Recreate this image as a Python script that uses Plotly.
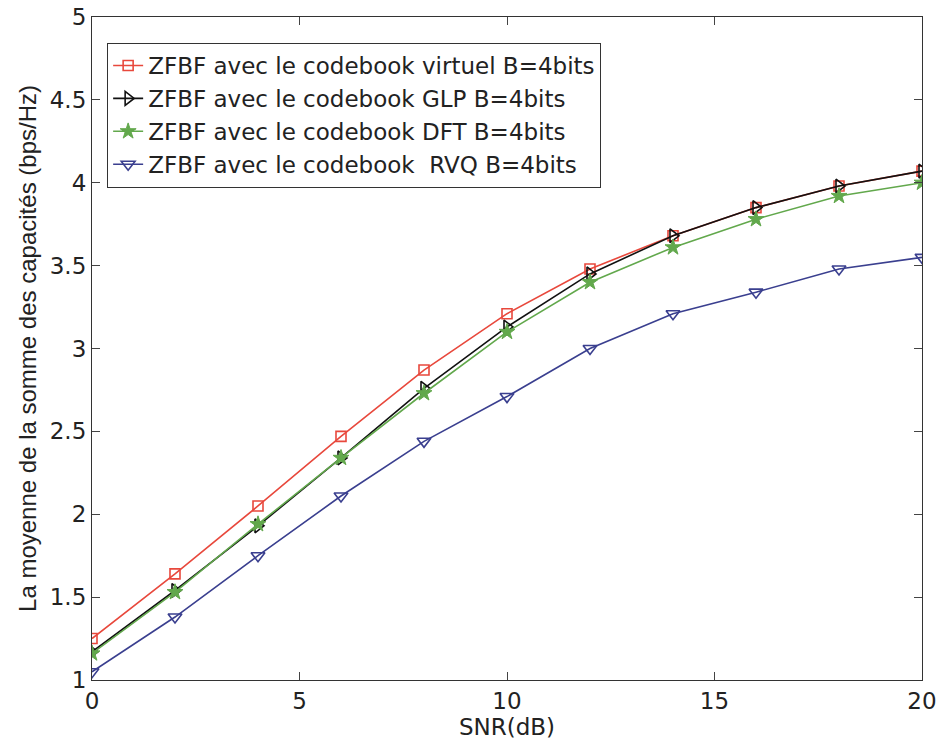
import plotly.graph_objects as go

snr = [0, 2, 4, 6, 8, 10, 12, 14, 16, 18, 20]
virtuel = [1.25, 1.64, 2.05, 2.47, 2.87, 3.21, 3.48, 3.68, 3.85, 3.98, 4.07]
glp = [1.17, 1.54, 1.93, 2.34, 2.76, 3.13, 3.45, 3.68, 3.85, 3.98, 4.07]
dft = [1.16, 1.53, 1.94, 2.34, 2.73, 3.10, 3.40, 3.61, 3.78, 3.92, 4.00]
rvq = [1.05, 1.38, 1.75, 2.11, 2.44, 2.71, 3.00, 3.21, 3.34, 3.48, 3.55]

names = [
    "ZFBF avec le codebook virtuel B=4bits",
    "ZFBF avec le codebook GLP B=4bits",
    "ZFBF avec le codebook DFT B=4bits",
    "ZFBF avec le codebook  RVQ B=4bits",
]

x_ticks = [0, 5, 10, 15, 20]
y_ticks = [1, 1.5, 2, 2.5, 3, 3.5, 4, 4.5, 5]
y_labels = ["1", "1.5", "2", "2.5", "3", "3.5", "4", "4.5", "5"]

fig = go.Figure()
fig.add_trace(go.Scatter(x=snr, y=virtuel, name=names[0], mode="lines+markers",
                         line=dict(color="#e8483c", width=1.6),
                         marker=dict(symbol="square-open", size=10, color="#e8483c", line=dict(width=1.6))))
fig.add_trace(go.Scatter(x=snr, y=glp, name=names[1], mode="lines+markers",
                         line=dict(color="#111111", width=1.6),
                         marker=dict(symbol="triangle-right-open", size=12, color="#111111", line=dict(width=1.6))))
fig.add_trace(go.Scatter(x=snr, y=dft, name=names[2], mode="lines+markers",
                         line=dict(color="#62a84c", width=1.6),
                         marker=dict(symbol="star", size=12, color="#62a84c", line=dict(width=1, color="#62a84c"))))
fig.add_trace(go.Scatter(x=snr, y=rvq, name=names[3], mode="lines+markers",
                         line=dict(color="#3a3f8f", width=1.6),
                         marker=dict(symbol="triangle-down-open", size=12, color="#3a3f8f", line=dict(width=1.6))))

fig.update_layout(
    width=943, height=742,
    margin=dict(l=92, r=21, t=17, b=62, autoexpand=False),
    paper_bgcolor="white", plot_bgcolor="white",
    font=dict(family="DejaVu Sans", size=22, color="#222222"),
    showlegend=True,
    legend=dict(x=0.018, y=0.961, xanchor="left", yanchor="top",
                bgcolor="white", bordercolor="#333333", borderwidth=1.2,
                font=dict(family="DejaVu Sans", size=23, color="#222222"),
                tracegroupgap=0),
    xaxis=dict(range=[0, 20], tickvals=x_ticks, ticks="inside", ticklen=8,
               showline=True, linecolor="#333333", linewidth=1.2, mirror="ticks",
               showgrid=False, zeroline=False, automargin=False,
               tickfont=dict(family="DejaVu Sans", size=23),
               title=dict(text="SNR(dB)", font=dict(family="DejaVu Sans", size=23), standoff=2)),
    yaxis=dict(range=[1, 5], tickvals=y_ticks, ticktext=y_labels,
               ticks="inside", ticklen=8,
               showline=True, linecolor="#333333", linewidth=1.2, mirror="ticks",
               showgrid=False, zeroline=False, automargin=False,
               tickfont=dict(family="DejaVu Sans", size=23),
               title=dict(text="La moyenne de la somme des capacités (bps/Hz)",
                          font=dict(family="Liberation Sans", size=24), standoff=6)),
)

fig.write_html("out.html", config={"displayModeBar": False},
               post_script="document.body.style.margin='0';")
